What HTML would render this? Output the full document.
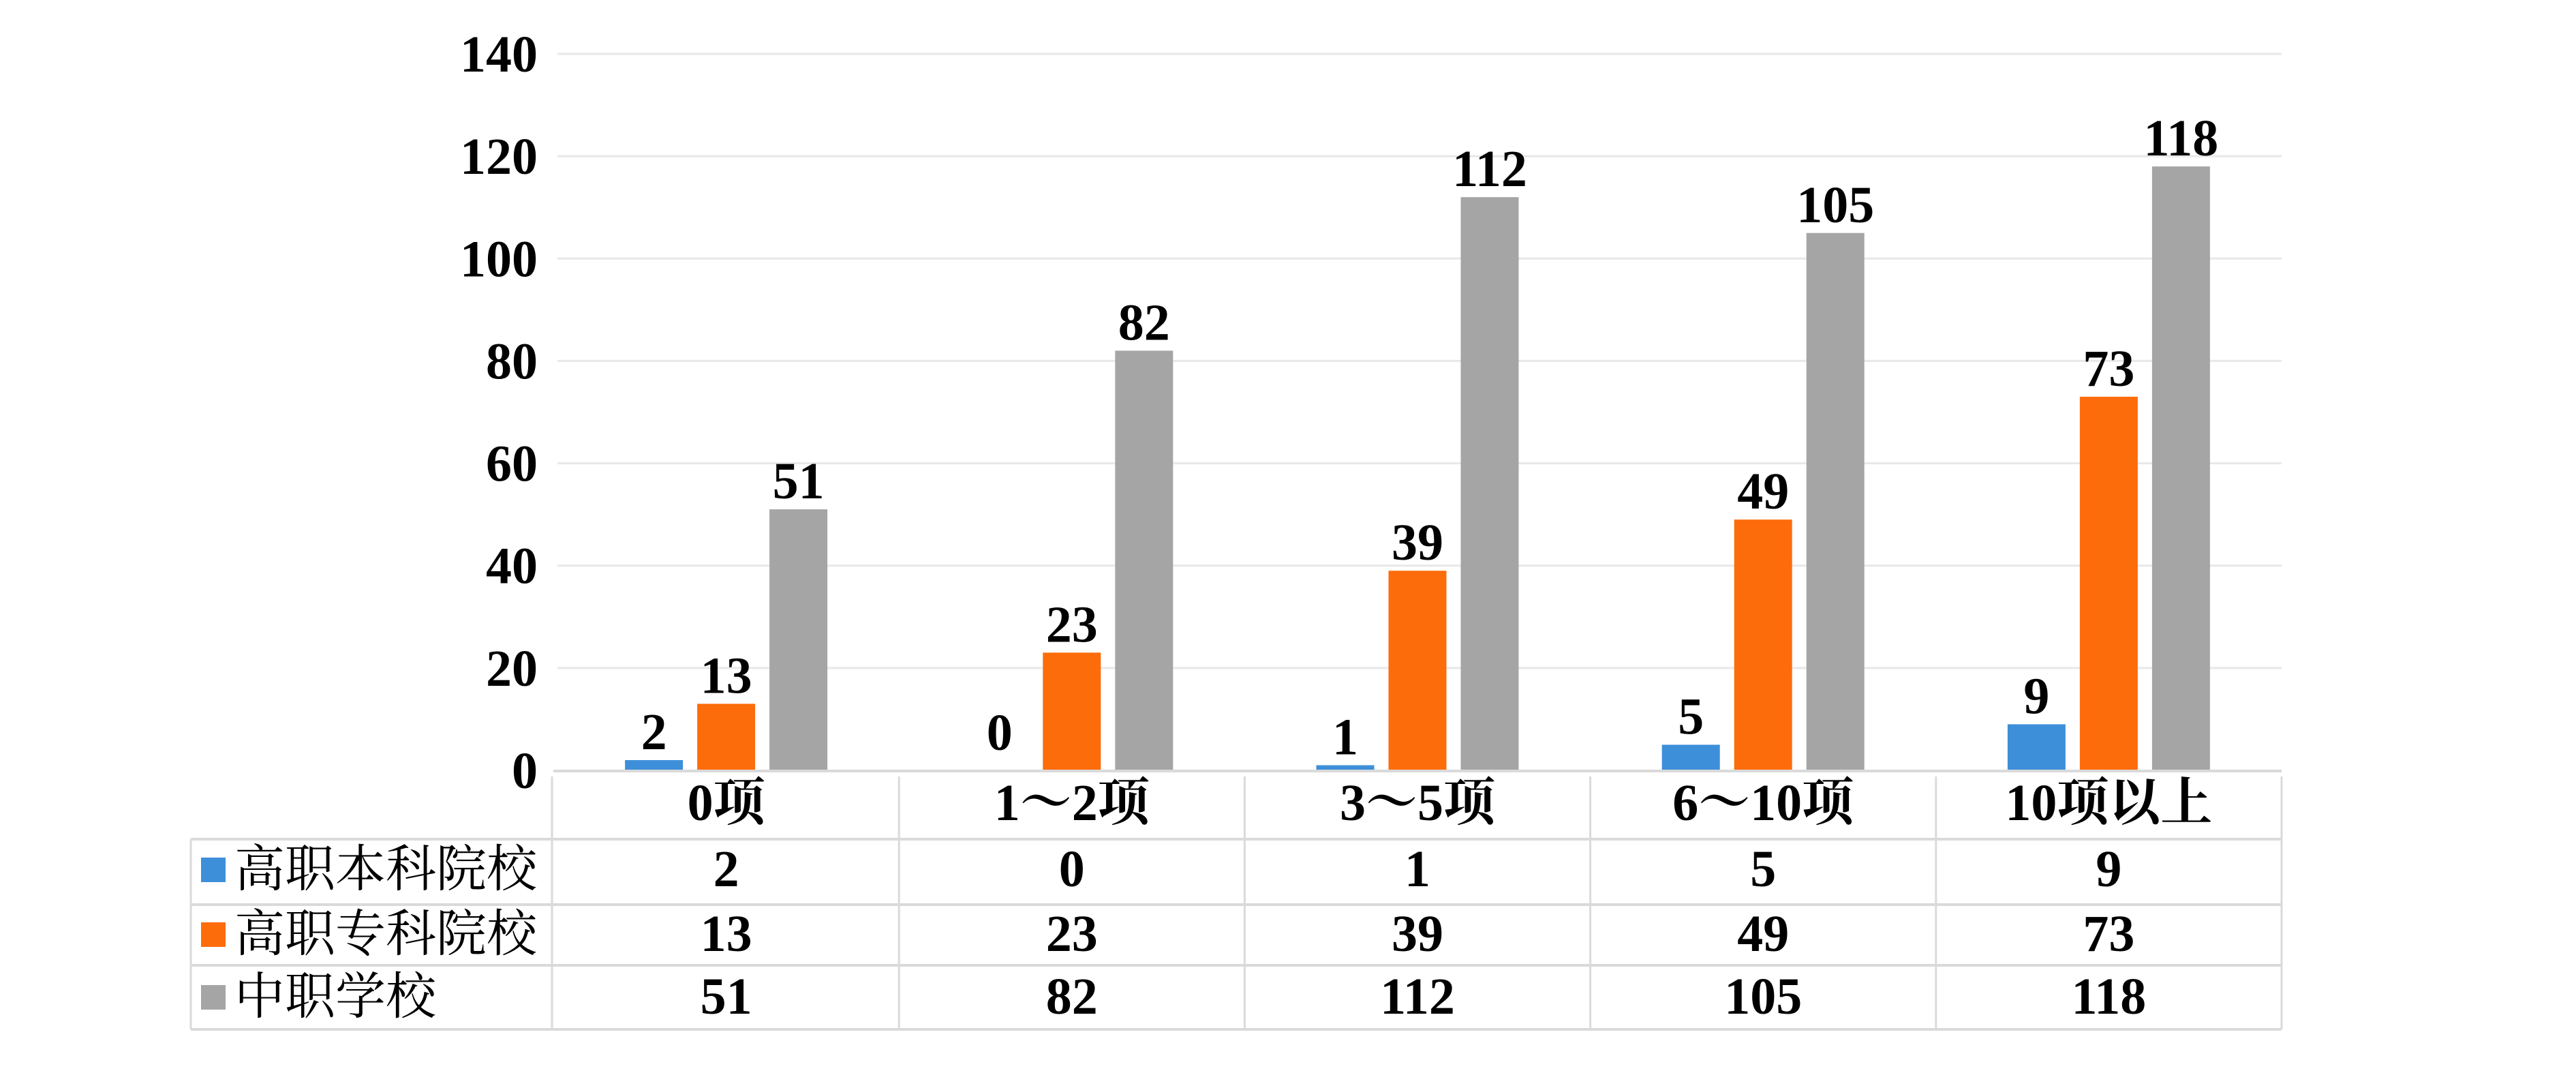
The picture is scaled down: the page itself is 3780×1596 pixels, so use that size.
<!DOCTYPE html>
<html><head><meta charset="utf-8">
<style>
html,body{margin:0;padding:0;background:#fff;}
svg{display:block;}
.num{font-family:"Liberation Serif","Noto Serif CJK SC",serif;font-weight:bold;font-size:76px;fill:#000;}
.cjk{font-family:"Liberation Serif","Noto Serif CJK SC",serif;font-size:74px;fill:#000;}
</style></head>
<body>
<svg id="chart" width="3780" height="1596" viewBox="0 0 3780 1596" xmlns="http://www.w3.org/2000/svg">
<g id="grid"></g>
<g id="yticks"></g>
<g id="bars"></g>
<g id="labels"></g>
<g id="table"></g>
</svg>
<script>
const categories = ["0项","1～2项","3～5项","6～10项","10项以上"];
const seriesNames = ["高职本科院校","高职专科院校","中职学校"];
const benke = [2,0,1,5,9];
const zhuanke = [13,23,39,49,73];
const zhongzhi = [51,82,112,105,118];
const yTicks = [0,20,40,60,80,100,120,140];

const series = [benke, zhuanke, zhongzhi];
const colors = ["#3d8fd9","#fd6c0b","#a5a5a5"];
const NS = "http://www.w3.org/2000/svg";
const x0 = 812, plotW = 2536, y0 = 1130, yTop = 79, yMax = 140;
const catW = plotW / categories.length;
const barW = 85, barStep = 106;
function y(v){ return y0 - (v / yMax) * (y0 - yTop); }
function cx(i){ return x0 + catW * (i + 0.5); }
function mk(tag, attrs, parent, text){
  const e = document.createElementNS(NS, tag);
  for (const k in attrs) e.setAttribute(k, attrs[k]);
  if (text !== undefined) e.textContent = text;
  parent.appendChild(e);
  return e;
}
const grid = document.getElementById('grid');
const yt = document.getElementById('yticks');
yTicks.forEach(t => {
  if (t > 0) {
    const l = mk('line', {x1:x0+6, x2:x0+plotW, y1:y(t), y2:y(t), stroke:'#e8e8e8', 'stroke-width':3}, grid);
    
    
  }
  const tx = mk('text', {x:789, y:y(t)+26, 'text-anchor':'end', class:'num'}, yt, String(t));
  
  
});
const bars = document.getElementById('bars');
const labels = document.getElementById('labels');
series.forEach((s, si) => {
  s.forEach((v, i) => {
    const bx = cx(i) + (si - 1) * barStep - barW / 2;
    const r = mk('rect', {x:bx, y:y(v), width:barW, height:y0 - y(v), fill:colors[si]}, bars);
    
    
    const off = v === 0 ? 30 : 16;
    const t = mk('text', {x:bx + barW/2, y:y(v) - off, 'text-anchor':'middle', class:'num'}, labels, String(v));
    
    
  });
});
// table
const tb = document.getElementById('table');
const tl = 280, tr = x0 + plotW, div = 810;
const rows = [1131, 1231, 1327, 1416, 1510];
const lc = '#dadada';
mk('line', {x1:x0, x2:tr, y1:rows[0], y2:rows[0], stroke:lc, 'stroke-width':4}, tb);
for (let r = 1; r < rows.length; r++) {
  mk('line', {x1:tl, x2:tr, y1:rows[r], y2:rows[r], stroke:lc, 'stroke-width':4}, tb);
}
mk('line', {x1:tl, x2:tl, y1:rows[1], y2:rows[4], stroke:lc, 'stroke-width':3}, tb);
for (let i = 0; i <= categories.length; i++) {
  const xx = i === 0 ? div : x0 + catW * i;
  mk('line', {x1:xx, x2:xx, y1:rows[0]+8, y2:rows[4], stroke:lc, 'stroke-width':3}, tb);
}
categories.forEach((c, i) => {
  const t = mk('text', {x:cx(i), y:1203, 'text-anchor':'middle', class:'num'}, tb, c);
  
  
});
const baselines = [1300, 1395, 1487];
seriesNames.forEach((n, si) => {
  const sq = mk('rect', {x:295, y:baselines[si]-42, width:36, height:36, fill:colors[si]}, tb);
  
  
  const t = mk('text', {x:344, y:baselines[si], class:'cjk'}, tb, n);
  
  
  series[si].forEach((v, i) => {
    const c = mk('text', {x:cx(i), y:baselines[si], 'text-anchor':'middle', class:'num'}, tb, String(v));
    
    
  });
});
</script>
</body></html>
